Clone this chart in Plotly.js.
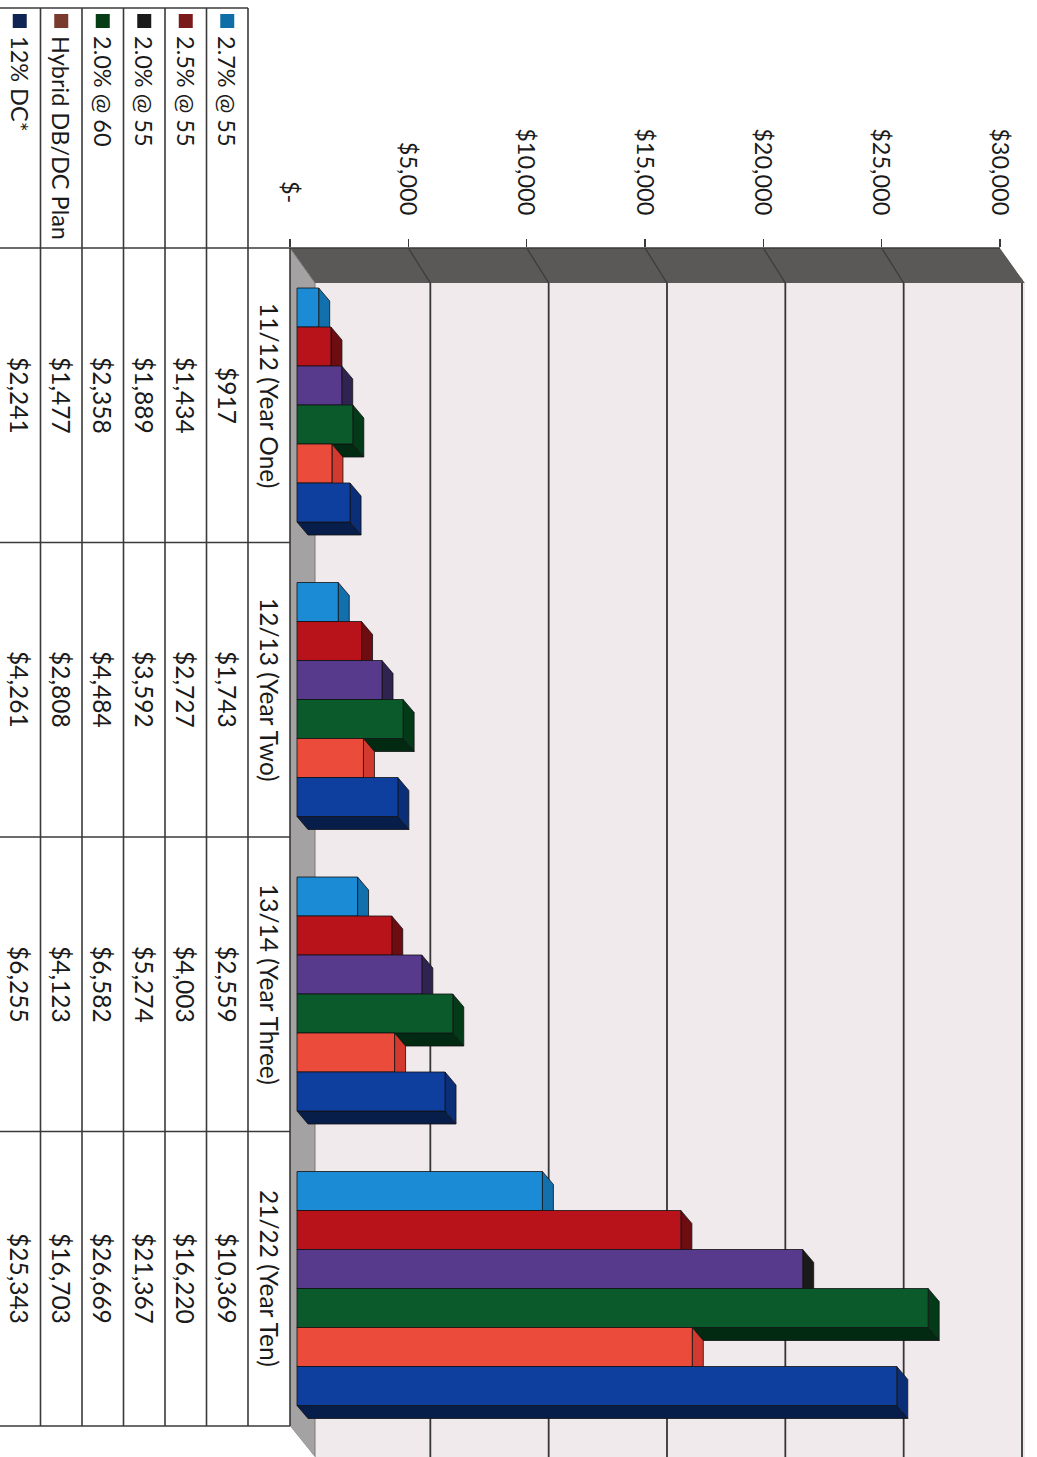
<!DOCTYPE html>
<html>
<head>
<meta charset="utf-8">
<script src="https://cdn.plot.ly/plotly-3.0.1.min.js"></script>
<style>
  html, body { margin: 0; padding: 0; background: #ffffff; overflow: hidden; }
  body { width: 1037px; height: 1457px; position: relative; }
  /* the chart is laid out as a column chart and turned a quarter turn clockwise */
  #chart {
    position: absolute; left: 0; top: 0;
    width: 1457px; height: 1037px;
    transform-origin: 0 0;
    transform: translate(1037px, 0) rotate(90deg);
  }
</style>
</head>
<body>
<div id="chart"></div>
<script>
// ---- data ----
const categories = ['11/12 (Year One)', '12/13 (Year Two)', '13/14 (Year Three)', '21/22 (Year Ten)'];
const seriesNames = ['2.7% @ 55', '2.5% @ 55', '2.0% @ 55', '2.0% @ 60', 'Hybrid DB/DC Plan', '12% DC*'];
const plan27at55 = [917, 1743, 2559, 10369];
const plan25at55 = [1434, 2727, 4003, 16220];
const plan20at55 = [1889, 3592, 5274, 21367];
const plan20at60 = [2358, 4484, 6582, 26669];
const hybridDbDc = [1477, 2808, 4123, 16703];
const dc12 = [2241, 4261, 6255, 25343];
const seriesValues = [plan27at55, plan25at55, plan20at55, plan20at60, hybridDbDc, dc12];
const valueTicks = [0, 5000, 10000, 15000, 20000, 25000, 30000];
const valueTickLabels = ['$-\u00a0\u00a0', '$5,000', '$10,000', '$15,000', '$20,000', '$25,000', '$30,000'];

// ---- styles ----
const faceColors = ['#1c8bd6', '#b8131b', '#573a8c', '#0b5a2b', '#ea4b3b', '#0f3f9e'];
const topColors  = ['#1270ad', '#6d0d12', '#2f2350', '#033a18', '#d33a2f', '#0a2f78'];
const sideColors = ['#0d5585', '#4f080c', '#22193a', '#022a12', '#a82a22', '#071d4a'];
const keyColors  = ['#0f6ea6', '#7b1a1a', '#1a1a1a', '#063d16', '#7a3a2e', '#0e2452'];
const FONT = 'Lato, "Open Sans", sans-serif';
const TXT = '#1a1a1a';
const RULE = '#3a3a3a';
const TABLE_SIZE = 24.5;
const KEY_SIZE = 23.5;
const TICK_SIZE = 23.5;

// ---- frame geometry (pixels, before the quarter turn) ----
const W = 1457, H = 1037;
const M = {l: 248, r: 0, t: 12, b: 290};
const plotW = W - M.l - M.r;
const plotH = H - M.t - M.b;
const catPx = 294.5;                 // width of one category column
const valPx = 710 / 30000;           // pixels per dollar
const barLift = 7, gridLift = 22, floorDepthPx = 25;
const xRange = [-0.5, -0.5 + plotW / catPx];
const yRange = [-barLift / valPx, (plotH - barLift) / valPx];
const y2Range = [0, plotH / valPx];

const barW = 39 / catPx;
const barStart = (40 - catPx / 2) / catPx;
const depthX = 13 / catPx;
const depthY = 11 / valPx;
const wallDepthX = 35 / catPx;

// helpers: height above the plot bottom -> bar axis value; frame px -> paper
const pY = p => yRange[0] + p / valPx;
const paperY = oy => (M.t + plotH - oy) / plotH;
const paperX = ox => (ox - M.l) / plotW;
const catToPaper = c => (c - xRange[0]) / (xRange[1] - xRange[0]);
const money = v => '$' + v.toLocaleString('en-US');

// ---- bars (front faces) ----
const traces = seriesValues.map((vals, i) => ({
  type: 'bar',
  name: seriesNames[i],
  x: categories.map((_, c) => c),
  y: vals,
  width: barW,
  offset: barStart + i * barW,
  marker: {color: faceColors[i], line: {color: '#111111', width: 0.8}},
  hoverinfo: 'skip',
  showlegend: false
}));

const shapes = [];
const wallX = -0.5 + wallDepthX;

// back-wall gridlines, set back from the front value axis
valueTicks.forEach(v => {
  const y = pY(v * valPx + gridLift);
  shapes.push({type: 'line', xref: 'paper', yref: 'y', layer: 'between',
    x0: 0, x1: 1, y0: y, y1: y, line: {color: '#363636', width: 1.8}});
});

// ---- 3D side wall and floor ----
shapes.push({type: 'path', xref: 'x', yref: 'y', layer: 'between',
  path: `M -0.5,${pY(0)} L -0.5,${pY(710)} L ${wallX},${pY(plotH)} L ${wallX},${pY(floorDepthPx)} Z`,
  fillcolor: '#5b5858', line: {width: 0}});
valueTicks.slice(1, -1).forEach(v => {
  shapes.push({type: 'path', xref: 'x', yref: 'y', layer: 'between',
    path: `M -0.5,${pY(v * valPx)} L ${wallX},${pY(v * valPx + gridLift)}`,
    line: {color: '#3b3939', width: 1.2}});
});
shapes.push({type: 'path', xref: 'x', yref: 'y', layer: 'between',
  path: `M -0.5,${pY(710)} L -0.5,${pY(plotH)} L ${wallX},${pY(plotH)} Z`,
  fillcolor: '#ffffff', line: {width: 0}});
shapes.push({type: 'path', xref: 'x', yref: 'y', layer: 'between',
  path: `M -0.5,${pY(0)} L ${wallX},${pY(floorDepthPx)} L ${xRange[1]},${pY(floorDepthPx)} L 3.5,${pY(0)} Z`,
  fillcolor: '#a4a2a2', line: {color: '#7a7878', width: 1}});
shapes.push({type: 'path', xref: 'x', yref: 'y', layer: 'between',
  path: `M 3.5,${pY(0)} L ${xRange[1]},${pY(0)} L ${xRange[1]},${pY(floorDepthPx)} Z`,
  fillcolor: '#ffffff', line: {width: 0}});

// ---- bar depth: side face then top face, left to right ----
categories.forEach((_, c) => {
  seriesValues.forEach((vals, i) => {
    const v = vals[c];
    const xl = c + barStart + i * barW, xr = xl + barW;
    const topCol = (i === 2 && c === 3) ? '#1a1a1a' : topColors[i];
    shapes.push({type: 'path', xref: 'x', yref: 'y', layer: 'between',
      path: `M ${xr},0 L ${xr},${v} L ${xr + depthX},${v + depthY} L ${xr + depthX},${depthY} Z`,
      fillcolor: sideColors[i], line: {color: '#111111', width: 0.8}});
    shapes.push({type: 'path', xref: 'x', yref: 'y', layer: 'between',
      path: `M ${xl},${v} L ${xl + depthX},${v + depthY} L ${xr + depthX},${v + depthY} L ${xr},${v} Z`,
      fillcolor: topCol, line: {color: '#111111', width: 0.8}});
  });
});

// value axis line
shapes.push({type: 'line', xref: 'paper', yref: 'y2', x0: 0, x1: 0, y0: 0, y1: 30000,
  line: {color: RULE, width: 1.6}});

// ---- data table ----
const headerTop = M.t + plotH;       // front edge of the floor
const headerH = 42, rowH = 41.5;
const tableLeft = 8;
const rowTop = r => headerTop + headerH + r * rowH;
const tableRight = catToPaper(categories.length - 0.5);

shapes.push({type: 'line', xref: 'paper', yref: 'paper',
  x0: 0, x1: tableRight, y0: paperY(headerTop), y1: paperY(headerTop),
  line: {color: RULE, width: 1.6}});
for (let r = 0; r < seriesNames.length; r++) {
  shapes.push({type: 'line', xref: 'paper', yref: 'paper',
    x0: paperX(tableLeft), x1: tableRight, y0: paperY(rowTop(r)), y1: paperY(rowTop(r)),
    line: {color: RULE, width: 1.6}});
}
shapes.push({type: 'line', xref: 'paper', yref: 'paper',
  x0: paperX(tableLeft), x1: paperX(tableLeft), y0: paperY(rowTop(0)), y1: paperY(H + 2),
  line: {color: RULE, width: 1.6}});
for (let c = 0; c <= categories.length; c++) {
  const xp = catToPaper(c - 0.5);
  shapes.push({type: 'line', xref: 'paper', yref: 'paper',
    x0: xp, x1: xp, y0: paperY(headerTop), y1: paperY(H + 2),
    line: {color: RULE, width: 1.6}});
}

const annotations = [];
categories.forEach((cat, c) => {
  annotations.push({xref: 'x', yref: 'paper', x: c, y: paperY(headerTop + headerH / 2),
    text: cat, showarrow: false, xanchor: 'center', yanchor: 'middle',
    font: {family: FONT, size: TABLE_SIZE, color: TXT}});
});
seriesNames.forEach((name, r) => {
  const cy = rowTop(r) + rowH / 2;
  shapes.push({type: 'rect', xref: 'paper', yref: 'paper',
    x0: paperX(14), x1: paperX(28), y0: paperY(cy + 7), y1: paperY(cy - 7),
    fillcolor: keyColors[r], line: {width: 0}});
  annotations.push({xref: 'paper', yref: 'paper', x: paperX(34), y: paperY(cy),
    text: name, showarrow: false, xanchor: 'left', yanchor: 'middle',
    font: {family: FONT, size: KEY_SIZE, color: TXT}});
  seriesValues[r].forEach((v, c) => {
    annotations.push({xref: 'x', yref: 'paper', x: c, y: paperY(cy),
      text: money(v), showarrow: false, xanchor: 'center', yanchor: 'middle',
      font: {family: FONT, size: TABLE_SIZE, color: TXT}});
  });
});

const layout = {
  width: W, height: H,
  margin: M,
  paper_bgcolor: '#ffffff',
  plot_bgcolor: '#f1eaec',
  font: {family: FONT, size: TICK_SIZE, color: TXT},
  barmode: 'overlay',
  showlegend: false,
  xaxis: {range: xRange, showgrid: false, zeroline: false, showticklabels: false,
          ticks: '', showline: false, fixedrange: true},
  yaxis: {range: yRange, showgrid: false, zeroline: false, showticklabels: false,
          ticks: '', showline: false, fixedrange: true},
  yaxis2: {range: y2Range, overlaying: 'y', side: 'left', showgrid: false, zeroline: false,
           tickmode: 'array', tickvals: valueTicks, ticktext: valueTickLabels,
           ticks: 'outside', ticklen: 8, tickwidth: 1.6, tickcolor: RULE,
           ticklabelstandoff: 19, showline: false,
           tickfont: {family: FONT, size: TICK_SIZE, color: TXT}, fixedrange: true},
  shapes: shapes,
  annotations: annotations
};

Plotly.newPlot('chart', traces, layout, {displayModeBar: false, staticPlot: true});
</script>
</body>
</html>
